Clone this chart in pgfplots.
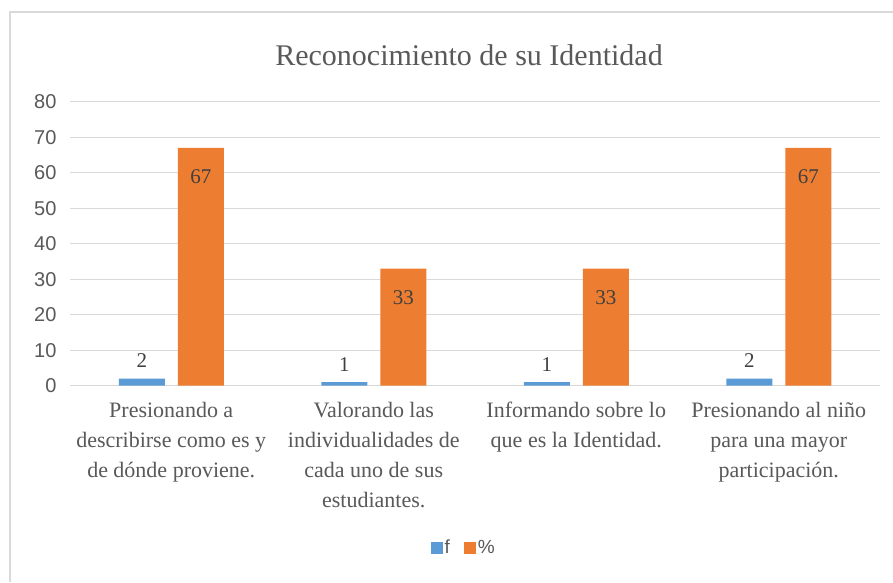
\documentclass[border=0pt]{standalone}
\usepackage{pgfplots}
\pgfplotsset{compat=1.18}
\usepackage{fontspec}
\setmainfont{Liberation Serif}
\newfontfamily\arial{Liberation Sans}
\definecolor{cblue}{HTML}{5B9BD5}
\definecolor{corange}{HTML}{ED7D31}
\definecolor{gridc}{HTML}{D9D9D9}
\definecolor{txt}{HTML}{595959}
\definecolor{dtxt}{HTML}{404040}
\begin{document}
\begin{tikzpicture}[x=1pt,y=1pt]
\useasboundingbox (0,0) rectangle (893,582);
\fill[white] (0,0) rectangle (893,582);
\draw[gridc, line width=1.5pt] (10,0) -- (10,570) -- (893,570);
\node[txt, font=\fontsize{30}{34}\selectfont] at (469,527) {Reconocimiento de su Identidad};
\begin{axis}[
  at={(70pt,196.3pt)}, anchor=south west,
  scale only axis, width=810pt, height=284pt,
  ybar=13pt, bar width=46pt,
  xmin=-0.5, xmax=3.5, ymin=0, ymax=80,
  xtick={0,1,2,3},
  ytick={0,10,...,80},
  xticklabels={{Presionando a\\describirse como es y\\de dónde proviene.},
    {Valorando las\\individualidades de\\cada uno de sus\\estudiantes.},
    {Informando sobre lo\\que es la Identidad.},
    {Presionando al niño\\para una mayor\\participación.}},
  xticklabel style={align=center, txt, font=\fontsize{22}{30}\selectfont, yshift=-13pt},
  yticklabel style={txt, font=\arial\fontsize{20}{24}\selectfont, xshift=-10pt},
  /pgf/number format/assume math mode=true,
  ymajorgrids, grid style={gridc, line width=1.3pt},
  axis line style={draw=none}, tick style={draw=none},
  major tick length=0pt,
  legend style={at={(0.486,-0.571)}, anchor=center, draw=none, fill=none,
    font=\arial\fontsize{19}{24}\selectfont, text=txt,
    legend columns=2, /tikz/every even column/.append style={column sep=12pt}},
  legend image code/.code={\fill[#1] (0pt,-6pt) rectangle (12pt,6pt);},
  nodes near coords,
  nodes near coords style={font=\fontsize{21}{24}\selectfont, dtxt, anchor=center},
]
\addplot[fill=cblue, draw=none, nodes near coords style={yshift=18pt}] coordinates {(0,2) (1,1) (2,1) (3,2)};
\addplot[fill=corange, draw=none, nodes near coords style={yshift=-29pt}] coordinates {(0,67) (1,33) (2,33) (3,67)};
\legend{f,\%}
\end{axis}
\end{tikzpicture}
\end{document}
